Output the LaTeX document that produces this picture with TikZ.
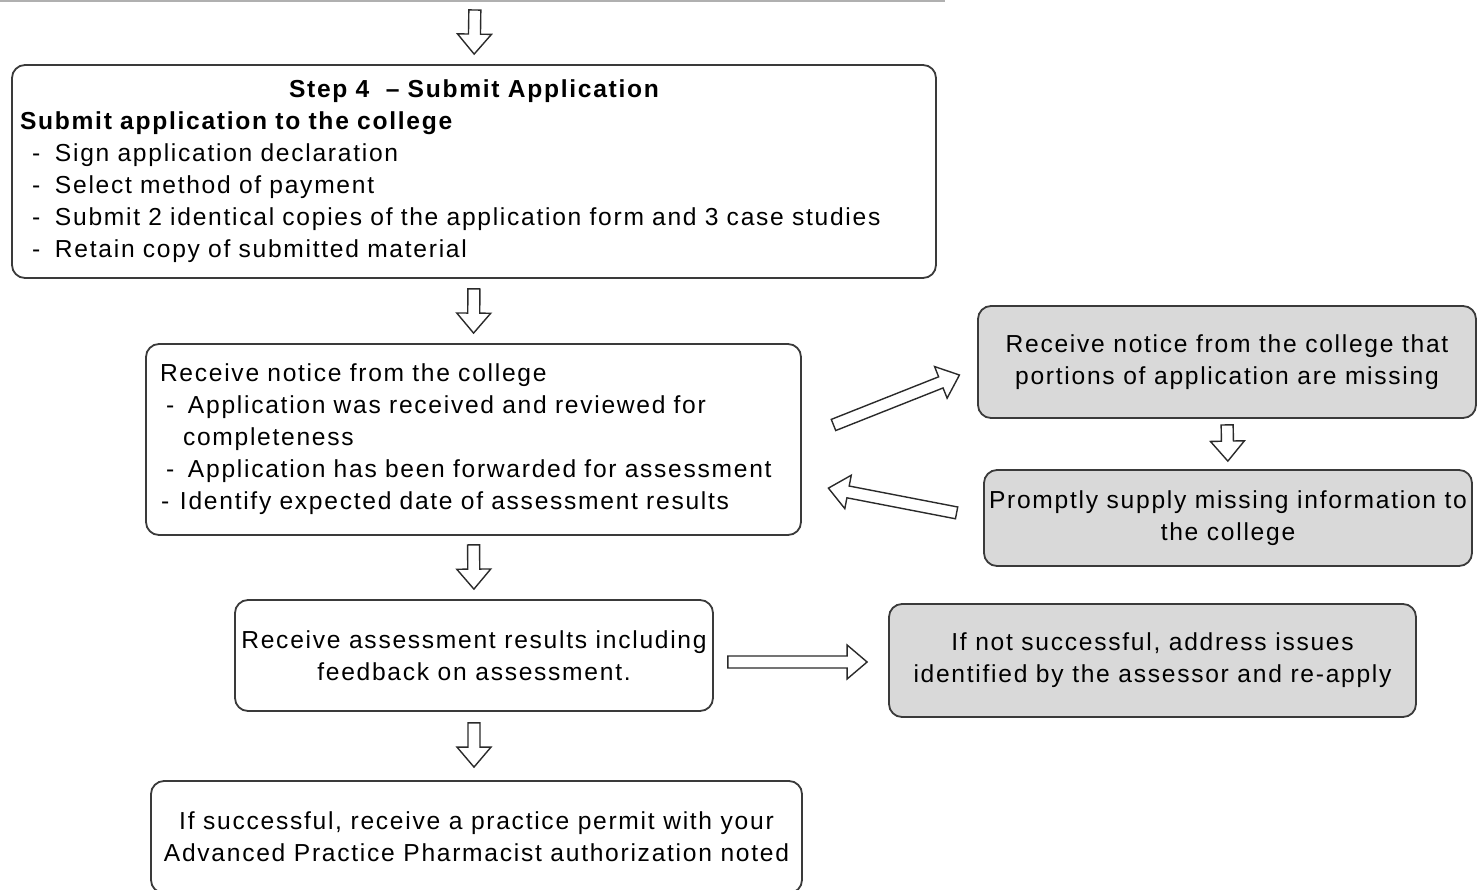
\documentclass[tikz,border=0pt]{standalone}
\usepackage{fontspec}
\setmainfont{Liberation Sans}[LetterSpace=7]
\usetikzlibrary{calc}
\definecolor{boxline}{HTML}{3A3A3A}
\definecolor{greyfill}{HTML}{D9D9D9}
\definecolor{arrline}{HTML}{2A2A2A}
\definecolor{topline}{HTML}{B0B0B0}
\newcommand\gapS{5pt}
\newcommand\gapE{5pt}
\newcommand\itm[1]{\hspace*{6pt}\makebox[11.5pt][l]{-}#1}
\begin{document}
\begin{tikzpicture}[x=0.5pt,y=-0.5pt,
  font=\fontsize{12.3}{16}\selectfont,
  box/.style={draw=boxline, line width=0.9pt, rounded corners=6.5pt, inner sep=0pt},
  greybox/.style={box, fill=greyfill},
  gs/.code={\def\gapS{#1}},
  ge/.code={\def\gapE{#1}},
  blk/.style={draw=arrline, line width=0.7pt, fill=white, to path={
    ($(\tikztostart)!\gapS!(\tikztotarget)$) coordinate (bs)
    ($(\tikztotarget)!\gapE!(\tikztostart)$) coordinate (be)
    ($(be)!10pt!(bs)$) coordinate (bn)
    ($(bs)!3pt!90:(be)$) -- ($(bn)!3pt!90:(be)$) -- ($(bn)!8.5pt!90:(be)$) -- (be)
    -- ($(bn)!8.5pt!-90:(be)$) -- ($(bn)!3pt!-90:(be)$) -- ($(bs)!3pt!-90:(be)$) -- cycle}}
]
\useasboundingbox (0,0) rectangle (1478,889);
\draw[topline, line width=1pt] (0,1) -- (945,1);

\node[box, minimum width=462pt, minimum height=106.5pt, text width=454pt, align=left] (s4) at (474,171.5) {%
\makebox[454pt][c]{\bfseries Step 4 \ -- Submit Application}\\
\textbf{Submit application to the college}\\
\itm{Sign application declaration}\\
\itm{Select method of payment}\\
\itm{Submit 2 identical copies of the application form and 3 case studies}\\
\itm{Retain copy of submitted material}};

\node[box, minimum width=327.5pt, minimum height=95.5pt, text width=313.5pt, align=left] (notice) at (473.5,439.5) {%
Receive notice from the college\\
\hspace*{3pt}\makebox[11pt][l]{-}Application was received and reviewed for\\
\hspace*{11.5pt}completeness\\
\hspace*{3pt}\makebox[11pt][l]{-}Application has been forwarded for assessment\\
\hspace*{0.5pt}\makebox[9.5pt][l]{-}Identify expected date of assessment results};

\node[box, minimum width=239pt, minimum height=55.5pt, align=center] (results) at (474,655.5) {Receive assessment results including\\feedback on assessment.};

\node[box, minimum width=325.5pt, minimum height=56pt, align=center] (final) at (476.5,837) {If successful, receive a practice permit with your\\Advanced Practice Pharmacist authorization noted};

\node[greybox, minimum width=249pt, minimum height=56pt, align=center] (grey1) at (1227,362) {Receive notice from the college that\\portions of application are missing};

\node[greybox, minimum width=244pt, minimum height=48pt, align=center] (grey2) at (1228,518) {Promptly supply missing information to\\the college};

\node[greybox, minimum width=263.5pt, minimum height=56.5pt, align=center] (grey3) at (1152.5,660.5) {If not successful, address issues\\identified by the assessor and re-apply};

\coordinate (topend) at (475,0);
\coordinate (n1) at ($(notice.east)+(0,-2)$);
\coordinate (g1) at ($(grey1.west)+(0,6)$);
\coordinate (n2) at ($(notice.east)+(0,43.5)$);
\coordinate (r1) at ($(results.east)+(0,6.5)$);
\coordinate (g3) at ($(grey3.west)+(0,1.5)$);

\draw[blk] (topend) to (s4.north);
\draw[blk] (s4.south) to (notice.north);
\draw[blk, gs=4.5pt] (notice.south) to (results.north);
\draw[blk, gs=5.5pt, ge=6.5pt] (results.south) to (results.south |- final.north);
\draw[blk, gs=3pt, ge=4pt] (grey1.south) to (grey2.north);
\draw[blk, gs=17pt, ge=9.5pt] (n1) to (g1);
\draw[blk, gs=13.5pt, ge=13.5pt] (grey2.west) to (n2);
\draw[blk, gs=7pt, ge=10.5pt] (r1) to (g3);
\end{tikzpicture}
\end{document}
